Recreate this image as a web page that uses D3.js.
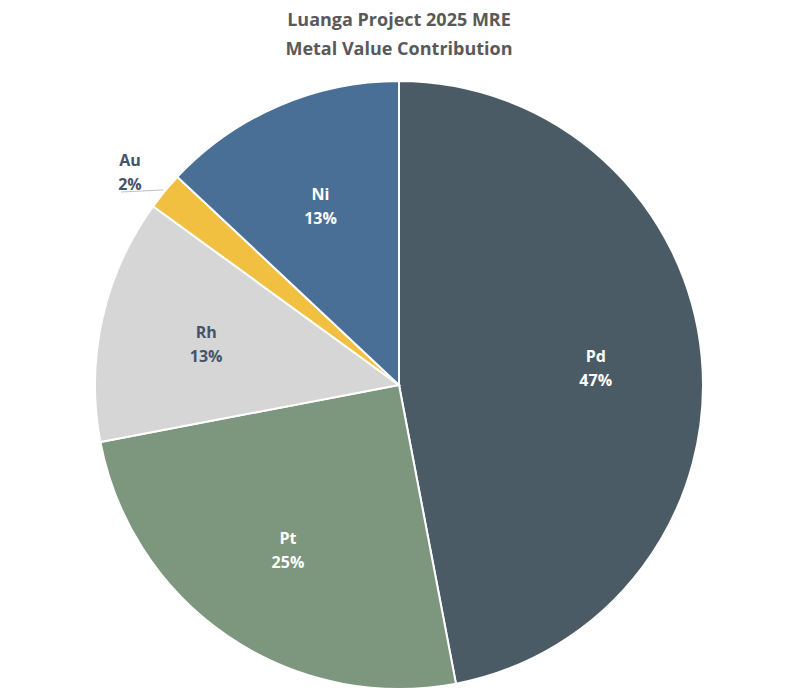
<!DOCTYPE html><html><head><script src="https://cdn.jsdelivr.net/npm/d3@7"></script>
<style>body{margin:0;background:#fff}</style></head><body><svg id="c" width="794" height="697"></svg>
<script>
const metals=["Pd","Pt","Rh","Au","Ni"];
const shares=[47,25,13,2,13];
const colors=["#4a5b66","#7d967e","#d6d6d6","#f1c040","#4a6f96"];
const svg=d3.select("#c");
svg.append("text").attr("x",399).attr("y",26).attr("text-anchor","middle").attr("font-family","Open Sans, sans-serif").attr("font-weight","bold").attr("font-size",18).attr("fill","#595959").text("Luanga Project 2025 MRE");
svg.append("text").attr("x",399).attr("y",55).attr("text-anchor","middle").attr("font-family","Open Sans, sans-serif").attr("font-weight","bold").attr("font-size",18).attr("fill","#595959").text("Metal Value Contribution");
const cx=399,cy=385,R=304;
const g=svg.append("g").attr("transform",`translate(${cx},${cy})`);
const data=metals.map((m,i)=>({m,v:shares[i],c:colors[i]}));
const arcs=d3.pie().value(d=>d.v).sort(null)(data);
const arc=d3.arc().innerRadius(0).outerRadius(R);
g.selectAll("path").data(arcs).join("path").attr("d",arc).attr("fill",d=>d.data.c).attr("stroke","#fff").attr("stroke-width",2);
const lab=d3.arc().innerRadius(R*0.65).outerRadius(R*0.65);
arcs.forEach(d=>{
  let p=lab.centroid(d), fill=d.data.m==="Rh"?"#44546a":"#fff";
  if(d.data.m==="Au"){
    const a=(d.startAngle+d.endAngle)/2;
    const e=[Math.sin(a)*(R+2),-Math.cos(a)*(R+2)];
    g.append("line").attr("x1",e[0]).attr("y1",e[1]).attr("x2",-278).attr("y2",-193).attr("stroke","#bfbfbf");
    p=[-269,-215]; fill="#44546a";
  }
  const t=g.append("text").attr("text-anchor","middle").attr("font-family","Open Sans, sans-serif").attr("font-weight","bold").attr("font-size",16).attr("fill",fill);
  t.append("tspan").attr("x",p[0]).attr("y",p[1]-4).text(d.data.m);
  t.append("tspan").attr("x",p[0]).attr("y",p[1]+20).text(d.data.v+"%");
});
</script></body></html>
